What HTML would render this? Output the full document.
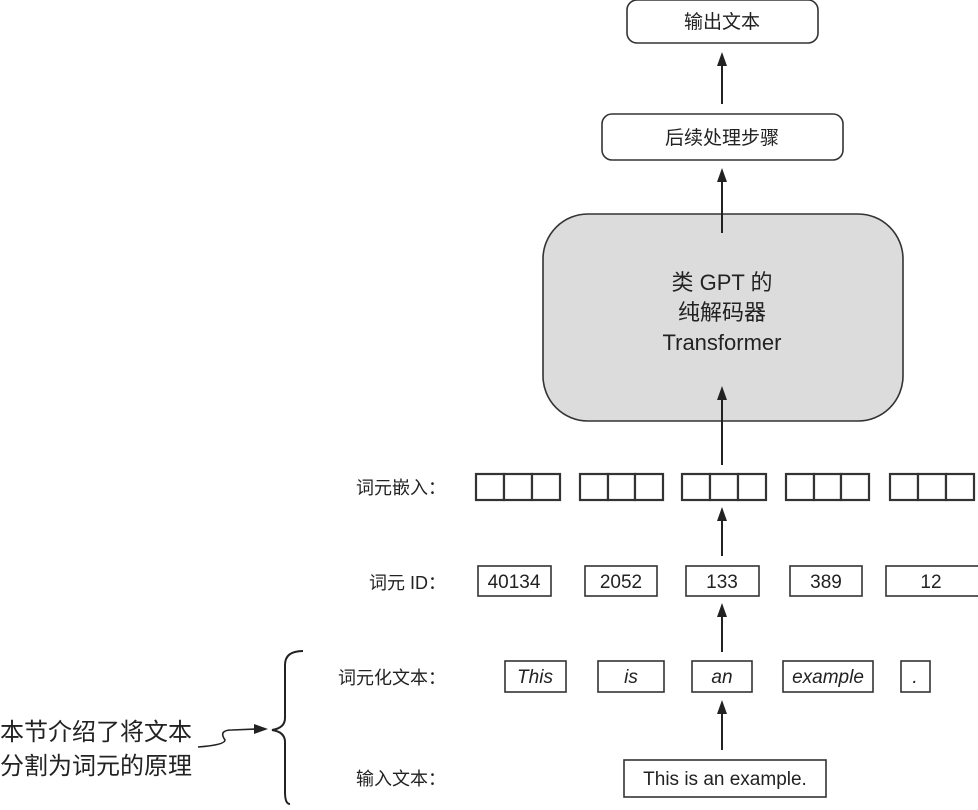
<!DOCTYPE html>
<html><head><meta charset="utf-8"><style>
html,body{margin:0;padding:0;background:#fff;}
svg text{font-family:"Liberation Sans","Noto Sans CJK SC",sans-serif;fill:#222;}
</style></head><body>
<svg width="978" height="805" viewBox="0 0 978 805" xmlns="http://www.w3.org/2000/svg">
<g stroke="#333" stroke-width="1.6" fill="#fff">
<rect x="627" y="0" width="191" height="43" rx="10"/>
<rect x="602" y="114" width="241" height="46" rx="10"/>
<rect x="543" y="214" width="360" height="207" rx="45" fill="#dcdcdc"/>
</g>
<g stroke="#222" stroke-width="2" fill="none">
<line x1="722" y1="104" x2="722" y2="60"/>
<line x1="722" y1="233" x2="722" y2="176"/>
<line x1="722" y1="465" x2="722" y2="394"/>
<line x1="722" y1="556" x2="722" y2="515"/>
<line x1="722" y1="652" x2="722" y2="611"/>
<line x1="722" y1="750" x2="722" y2="708"/>
</g>
<g fill="#222">
<path d="M722,52 L727,66 L717,66 Z"/>
<path d="M722,168 L727,182 L717,182 Z"/>
<path d="M722,386 L727,400 L717,400 Z"/>
<path d="M722,507 L727,521 L717,521 Z"/>
<path d="M722,603 L727,617 L717,617 Z"/>
<path d="M722,700 L727,714 L717,714 Z"/>
<path d="M268,729 L254,724 L254,734 Z"/>
</g>
<g font-size="19" text-anchor="middle">
<text x="722" y="28">输出文本</text>
<text x="722" y="144">后续处理步骤</text>
</g>
<g font-size="22" text-anchor="middle">
<text x="722" y="290">类 GPT 的</text>
<text x="722" y="320">纯解码器</text>
<text x="722" y="350">Transformer</text>
</g>
<g stroke="#333" stroke-width="2.2" fill="#fff">
<rect x="476" y="474" width="28" height="26"/><rect x="504" y="474" width="28" height="26"/><rect x="532" y="474" width="28" height="26"/>
<rect x="580" y="474" width="28" height="26"/><rect x="608" y="474" width="27" height="26"/><rect x="635" y="474" width="28" height="26"/>
<rect x="682" y="474" width="28" height="26"/><rect x="710" y="474" width="28" height="26"/><rect x="738" y="474" width="28" height="26"/>
<rect x="786" y="474" width="28" height="26"/><rect x="814" y="474" width="27" height="26"/><rect x="841" y="474" width="28" height="26"/>
<rect x="890" y="474" width="28" height="26"/><rect x="918" y="474" width="28" height="26"/><rect x="946" y="474" width="28" height="26"/>
</g>
<g stroke="#333" stroke-width="1.6" fill="#fff">
<rect x="478" y="566" width="73" height="30"/>
<rect x="585" y="566" width="72" height="30"/>
<rect x="686" y="566" width="73" height="30"/>
<rect x="790" y="566" width="72" height="30"/>
<rect x="886" y="566" width="100" height="30"/>
<rect x="505" y="661" width="61" height="31"/>
<rect x="598" y="661" width="66" height="31"/>
<rect x="692" y="661" width="60" height="31"/>
<rect x="783" y="661" width="90" height="31"/>
<rect x="901" y="661" width="29" height="31"/>
<rect x="624" y="760" width="202" height="37"/>
</g>
<g font-size="19" text-anchor="middle">
<text x="514" y="588">40134</text>
<text x="621" y="588">2052</text>
<text x="722" y="588">133</text>
<text x="826" y="588">389</text>
<text x="931" y="588">12</text>
<g font-style="italic">
<text x="535" y="683">This</text>
<text x="631" y="683">is</text>
<text x="722" y="683">an</text>
<text x="828" y="683">example</text>
<text x="915" y="683">.</text>
</g>
<text x="725" y="785">This is an example.</text>
</g>
<g font-size="18" text-anchor="end">
<text x="446" y="494">词元嵌入：</text>
<text x="446" y="589">词元 ID：</text>
<text x="446" y="684">词元化文本：</text>
<text x="446" y="785">输入文本：</text>
</g>
<g font-size="24">
<text x="0" y="740">本节介绍了将文本</text>
<text x="0" y="774">分割为词元的原理</text>
</g>
<path d="M303,651 Q285,651 285,665 L285,718 Q285,728 272,730 Q285,732 285,742 L285,792 Q285,804 290,804" stroke="#222" stroke-width="2" fill="none"/>
<path d="M198,747 Q225,745 225,740 Q218,730 232,730 L256,729" stroke="#222" stroke-width="1.6" fill="none"/>
</svg>
</body></html>
